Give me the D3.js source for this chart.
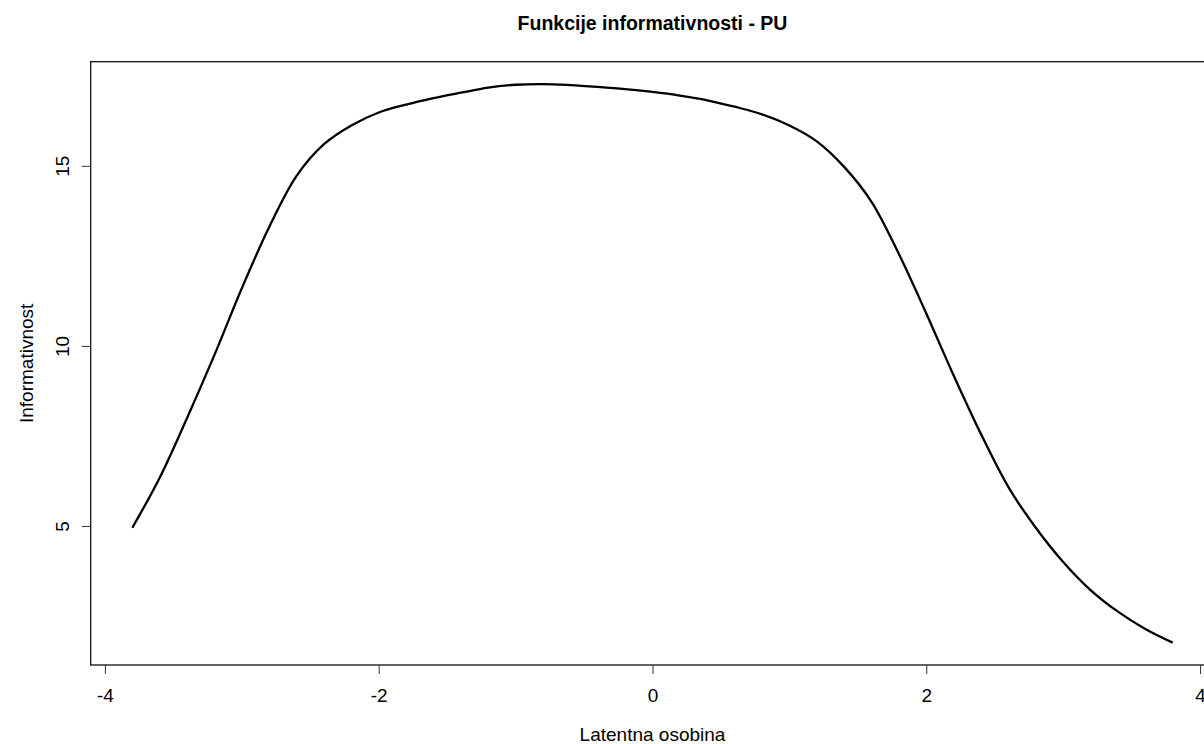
<!DOCTYPE html>
<html>
<head>
<meta charset="utf-8">
<script src="https://cdn.jsdelivr.net/npm/d3@7"></script>
<style>
  html, body { margin: 0; padding: 0; background: #fff; }
  svg { display: block; }
  text { font-family: "Liberation Sans", Arial, sans-serif; fill: #000; }
</style>
</head>
<body>
<svg id="chart" width="1204" height="744"></svg>
<script>
const theta = [-3.8,-3.6,-3.4,-3.2,-3.0,-2.8,-2.6,-2.4,-2.2,-2.0,-1.8,-1.6,-1.4,-1.2,-1.0,-0.8,-0.6,-0.4,-0.2,0.0,
               0.2,0.4,0.6,0.8,1.0,1.2,1.4,1.6,1.8,2.0,2.2,2.4,2.6,2.8,3.0,3.2,3.4,3.6,3.8];
const information = [4.95,6.34,8.0,9.75,11.6,13.3,14.72,15.6,16.12,16.48,16.7,16.88,17.03,17.17,17.25,17.27,17.24,17.19,17.13,17.05,
                     16.95,16.82,16.64,16.43,16.12,15.68,14.97,14.0,12.55,10.9,9.18,7.55,6.08,4.95,4.0,3.22,2.62,2.14,1.76];
const xTicks = [-4,-2,0,2,4];
const yTicks = [5,10,15];
const title = "Funkcije informativnosti - PU";
const xLabel = "Latentna osobina";
const yLabel = "Informativnost";

const svg = d3.select("#chart");
const pLeft = 90.7, pRight = 1214.3, pTop = 61.7, pBottom = 665;

// R-style 4% axis extension
const xmin = d3.min(theta), xmax = d3.max(theta);
const xr = xmax - xmin;
const x = d3.scaleLinear().domain([xmin - 0.04*xr, xmax + 0.04*xr]).range([pLeft, pRight]);
const ymin = d3.min(information), ymax = d3.max(information);
const yr = ymax - ymin;
const y = d3.scaleLinear().domain([ymin - 0.04*yr, ymax + 0.04*yr]).range([pBottom, pTop]);

// box
svg.append("rect")
  .attr("x", pLeft).attr("y", pTop)
  .attr("width", pRight - pLeft).attr("height", pBottom - pTop)
  .attr("fill", "none").attr("stroke", "#111").attr("stroke-width", 1.3);

// x axis
const xAxis = d3.axisBottom(x).tickValues(xTicks).tickSize(9).tickSizeOuter(0).tickFormat(d3.format("d"));
const gx = svg.append("g").attr("transform", `translate(0,${pBottom})`).call(xAxis);
gx.select(".domain").remove();
gx.selectAll(".tick line").attr("stroke", "#333");
gx.selectAll(".tick text").attr("font-size", 19).attr("dy", null).attr("y", 37)
  .text(d => d < 0 ? "-" + Math.abs(d) : d)
  .style("font-family", '"Liberation Sans", Arial, sans-serif').attr("fill", "#000");

// y axis
const yAxis = d3.axisLeft(y).tickValues(yTicks).tickSize(9).tickSizeOuter(0);
const gy = svg.append("g").attr("transform", `translate(${pLeft},0)`).call(yAxis);
gy.select(".domain").remove();
gy.selectAll(".tick line").attr("stroke", "#333");
gy.selectAll(".tick text")
  .attr("x", null).attr("dy", null).attr("y", null)
  .attr("text-anchor", "middle")
  .attr("transform", "translate(-22,0) rotate(-90)")
  .attr("font-size", 19)
  .style("font-family", '"Liberation Sans", Arial, sans-serif').attr("fill", "#000");

// curve
const line = d3.line().x((d, i) => x(theta[i])).y(d => y(d)).curve(d3.curveCatmullRom.alpha(0.5));
svg.append("path")
  .datum(information)
  .attr("d", line)
  .attr("fill", "none")
  .attr("stroke", "#000")
  .attr("stroke-width", 2.3)
  .attr("stroke-linejoin", "round");

// title & labels
svg.append("text").attr("x", (pLeft + pRight) / 2).attr("y", 30)
  .attr("text-anchor", "middle").attr("font-size", 19.5).attr("font-weight", "bold").text(title);
svg.append("text").attr("x", (pLeft + pRight) / 2).attr("y", 741)
  .attr("text-anchor", "middle").attr("font-size", 19).text(xLabel);
svg.append("text").attr("transform", `translate(33,${(pTop + pBottom) / 2}) rotate(-90)`)
  .attr("text-anchor", "middle").attr("font-size", 19).text(yLabel);
</script>
</body>
</html>
